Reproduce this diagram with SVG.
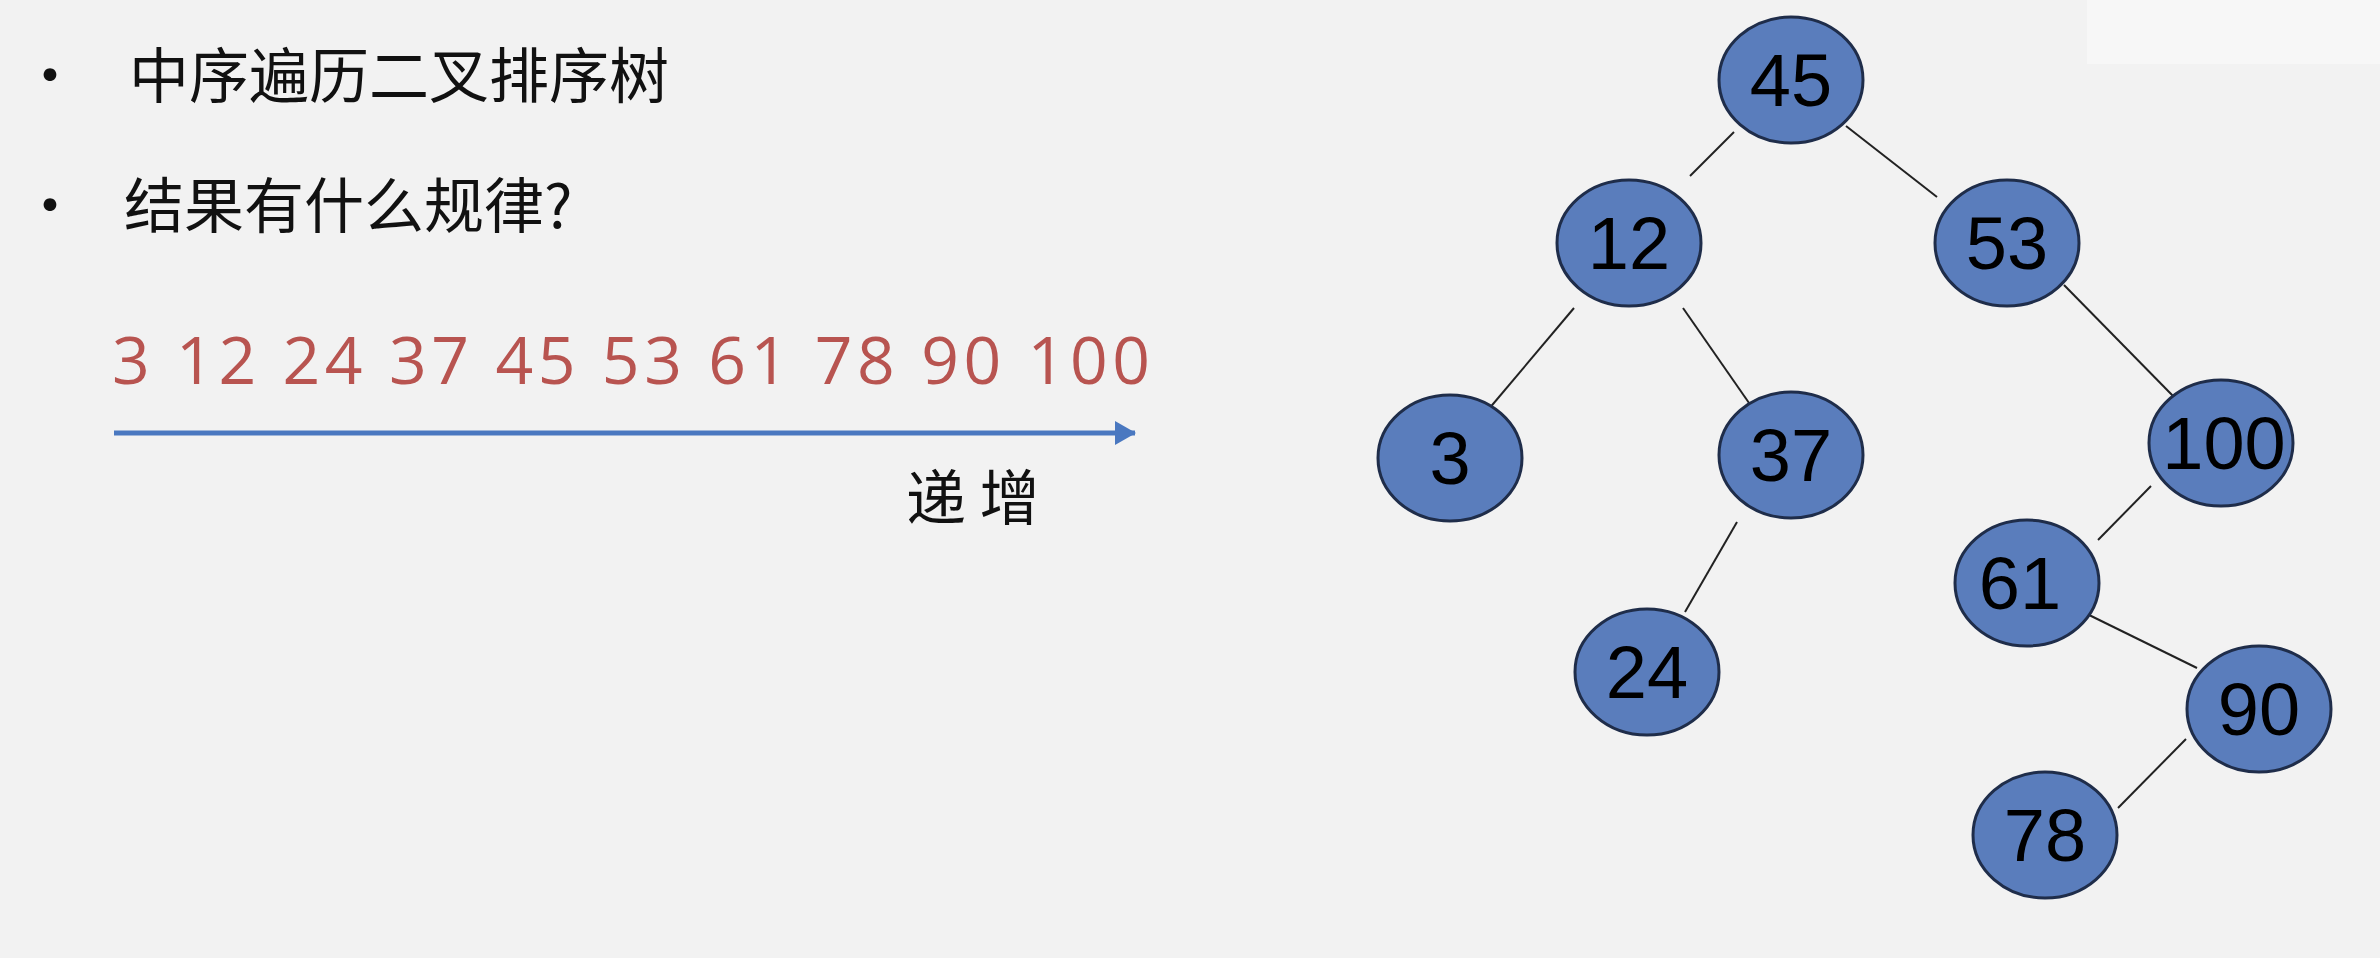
<svg xmlns="http://www.w3.org/2000/svg" width="2380" height="958" viewBox="0 0 2380 958">
<defs>
<style>
.n{fill:#5a7dbc;stroke:#1f2d4a;stroke-width:3}
.t{font-family:"Liberation Sans","Noto Sans",sans-serif;font-size:74px;fill:#000;text-anchor:middle}
.c{stroke:#222;stroke-width:2}
.cn{font-family:"Noto Sans CJK SC",sans-serif;font-size:60px;fill:#111}
</style>
<marker id="ah" markerWidth="10" markerHeight="10" refX="9" refY="5" orient="auto" markerUnits="userSpaceOnUse"><path d="M0,0L20,5L0,10Z" fill="#4a78c0" transform="scale(0.5,1)"/></marker>
</defs>
<rect width="2380" height="958" fill="#f2f2f2"/>
<rect x="2087" y="0" width="293" height="64" fill="#f7f7f7"/>
<g id="text">
<text x="20" y="98" class="cn">•</text>
<text x="129" y="98" class="cn">中序遍历二叉排序树</text>
<text x="20" y="228" class="cn">•</text>
<text x="124" y="228" class="cn">结果有什么规律?</text>
<text x="112" y="384" font-family="Open Sans,'Liberation Sans',sans-serif" font-size="66" fill="#b85450" textLength="1038">3 12 24 37 45 53 61 78 90 100</text>
<text x="906" y="520" class="cn" font-size="62">递 增</text>
</g>
<g id="connectors">
<line x1="114" y1="433" x2="1135" y2="433" stroke="#4a78c0" stroke-width="5"/>
<path d="M1115,421L1136,433L1115,445Z" fill="#4a78c0"/>
<line class="c" x1="1734" y1="132" x2="1690" y2="176"/>
<line class="c" x1="1846" y1="126" x2="1937" y2="197"/>
<line class="c" x1="1574" y1="308" x2="1488" y2="410"/>
<line class="c" x1="1683" y1="308" x2="1756" y2="413"/>
<line class="c" x1="2064" y1="285" x2="2175" y2="398"/>
<line class="c" x1="1737" y1="522" x2="1685" y2="612"/>
<line class="c" x1="2151" y1="486" x2="2098" y2="540"/>
<line class="c" x1="2083" y1="612" x2="2197" y2="668"/>
<line class="c" x1="2186" y1="739" x2="2118" y2="808"/>
</g>
<g id="n45"><ellipse class="n" cx="1791" cy="80" rx="72" ry="63"/><text class="t" x="1791" y="106">45</text></g>
<g id="n12"><ellipse class="n" cx="1629" cy="243" rx="72" ry="63"/><text class="t" x="1629" y="269">12</text></g>
<g id="n53"><ellipse class="n" cx="2007" cy="243" rx="72" ry="63"/><text class="t" x="2007" y="269">53</text></g>
<g id="n3"><ellipse class="n" cx="1450" cy="458" rx="72" ry="63"/><text class="t" x="1450" y="484">3</text></g>
<g id="n37"><ellipse class="n" cx="1791" cy="455" rx="72" ry="63"/><text class="t" x="1791" y="481">37</text></g>
<g id="n100"><ellipse class="n" cx="2221" cy="443" rx="72" ry="63"/><text class="t" x="2224" y="469">100</text></g>
<g id="n24"><ellipse class="n" cx="1647" cy="672" rx="72" ry="63"/><text class="t" x="1647" y="698">24</text></g>
<g id="n61"><ellipse class="n" cx="2027" cy="583" rx="72" ry="63"/><text class="t" x="2020" y="609">61</text></g>
<g id="n90"><ellipse class="n" cx="2259" cy="709" rx="72" ry="63"/><text class="t" x="2259" y="735">90</text></g>
<g id="n78"><ellipse class="n" cx="2045" cy="835" rx="72" ry="63"/><text class="t" x="2045" y="861">78</text></g>
</svg>
